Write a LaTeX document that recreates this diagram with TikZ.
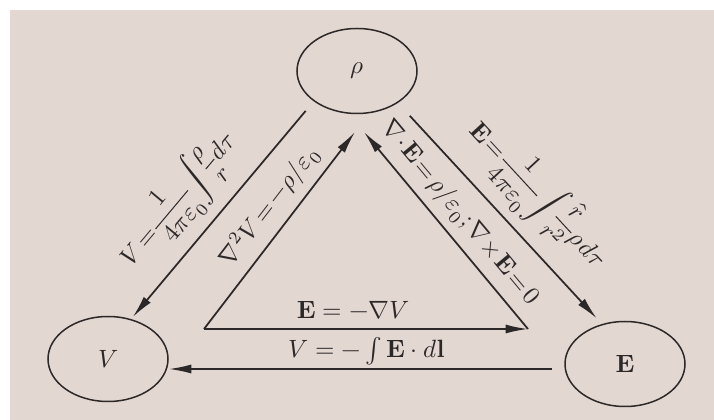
\documentclass[tikz,border=0pt]{standalone}
\usepackage{amsmath}
\usepackage{unicode-math}
\usepackage{tikz}
\usetikzlibrary{arrows.meta,shapes.geometric}
\definecolor{paper}{RGB}{226,215,209}
\definecolor{ink}{RGB}{45,40,40}
\newcommand{\sr}{\mathscr{r}}

\begin{document}
\begin{tikzpicture}[x=0.4pt,y=0.4pt,
  blob/.style={ellipse,draw=ink,line width=0.6pt,minimum width=48pt,minimum height=34pt,inner sep=0pt,text=ink},
  arr/.style={draw=ink,line width=0.7pt,-{Latex[length=9pt,width=3.6pt]}},
  lbl/.style={sloped,text=ink,execute at begin node={\thickmuskip=2mu\medmuskip=1mu\thinmuskip=1mu\nulldelimiterspace=0pt}}]
\useasboundingbox (0,0) rectangle (714,420);
\fill[paper] (10,0) rectangle (714,410);
% the three quantities
\node[blob] (rho) at (357,349) {$\rho$};
\node[blob] (V) at (108,61) {$V$};
\node[blob] (E) at (625,56) {$\mathbf{E}$};
% corners of the inner triangle
\coordinate (cV) at (204,91);
\coordinate (cE) at (528,91);
\coordinate (tipL) at (355,288);
\coordinate (tipR) at (364,288);
% outer arrows
\draw[arr,shorten <=5pt,shorten >=1pt] (rho.215) -- node[lbl,pos=0.57,above=0pt]{$\displaystyle V=\frac{1}{4\pi\varepsilon_0}\int\frac{\rho}{\sr}\,d\tau$} (V.60);
\draw[arr,shorten <=7pt,shorten >=3pt] (rho.322) -- node[lbl,pos=0.54,above=0pt]{$\displaystyle\mathbf{E}=\frac{1}{4\pi\varepsilon_0}\int\frac{\hat{\sr}}{\sr^2}\,\rho\,d\tau$} (E.120);
\draw[arr,shorten <=5pt] ([yshift=-2pt]E.west) -- node[above,inner sep=1pt,text=ink]{$V=-\int\mathbf{E}\cdot d\mathbf{l}$} ([yshift=-2pt]E.west -| V.east);
% inner triangle
\draw[arr] (cV) -- node[lbl,pos=0.553,above]{$\nabla^2V=-\rho/\varepsilon_0$} (tipL);
\draw[arr] (cE) -- node[lbl,pos=0.52,above]{$\nabla\cdot\mathbf{E}=\rho/\varepsilon_0\,;\nabla\times\mathbf{E}=0$} (tipR);
\draw[arr] (cV) -- node[pos=0.46,above,text=ink]{$\mathbf{E}=-\nabla V$} (cE);
\end{tikzpicture}
\end{document}
